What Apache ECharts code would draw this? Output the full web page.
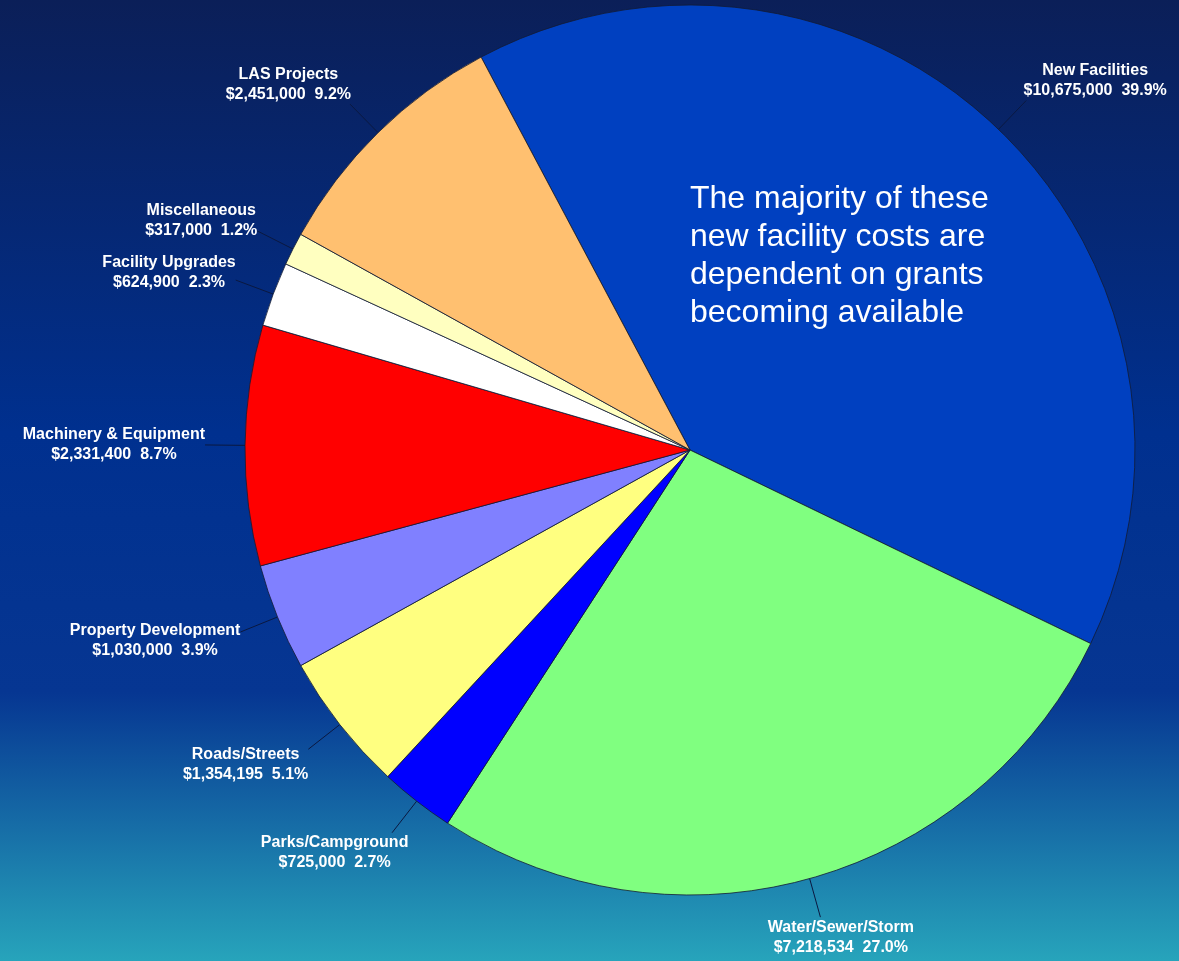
<!DOCTYPE html>
<html>
<head>
<meta charset="utf-8">
<script src="https://cdn.jsdelivr.net/npm/echarts@6/dist/echarts.min.js"></script>
<style>
  html, body { margin: 0; padding: 0; }
  #chart { width: 1179px; height: 961px; }
</style>
</head>
<body>
<div id="chart"></div>
<script>
// slices go clockwise from the top, starting with New Facilities
const categories = ['New Facilities', 'Water/Sewer/Storm', 'Parks/Campground', 'Roads/Streets',
  'Property Development', 'Machinery & Equipment', 'Facility Upgrades', 'Miscellaneous', 'LAS Projects']
const amounts = [10675000, 7218534, 725000, 1354195, 1030000, 2331400, 624900, 317000, 2451000]
const colors = ['#0040c0', '#80ff80', '#0000ff', '#ffff80', '#8080ff', '#ff0000', '#ffffff', '#ffffc0', '#ffc070']
const note = ['The majority of these', 'new facility costs are', 'dependent on grants', 'becoming available']

const chart = echarts.init(document.getElementById('chart'))
const money = v => '$' + v.toLocaleString('en-US')
const center = [690, 450]
const lineLen = 40

// put each label just past the end of a straight radial leader line,
// touching it with the corner/side that faces the pie
function placeLabel(params) {
  const pts = params.labelLinePoints
  if (!pts) return {}
  const p0 = pts[0]
  let ux = p0[0] - center[0], uy = p0[1] - center[1]
  const len = Math.sqrt(ux * ux + uy * uy)
  ux /= len; uy /= len
  const end = [p0[0] + ux * lineLen, p0[1] + uy * lineLen]
  const m = Math.max(Math.abs(ux), Math.abs(uy))
  const w = params.labelRect.width, h = params.labelRect.height
  return {
    x: end[0] + ux / m * w / 2,
    y: end[1] + uy / m * h / 2,
    align: 'center',
    verticalAlign: 'middle',
    labelLinePoints: [p0, end, end]
  }
}

const option = {
  backgroundColor: {
    type: 'linear', x: 0, y: 0, x2: 0, y2: 1,
    colorStops: [
      {offset: 0, color: '#0b1f58'},
      {offset: 0.45, color: '#00308f'},
      {offset: 0.72, color: '#063692'},
      {offset: 1, color: '#27a4bb'}
    ]
  },
  textStyle: {fontFamily: '"Liberation Sans", Arial, sans-serif'},
  graphic: [{
    type: 'text',
    left: 690,
    top: 180,
    style: {
      text: note.join('\n'),
      fill: '#ffffff',
      font: '32px "Liberation Sans", Arial, sans-serif',
      lineHeight: 38
    },
    z: 10
  }],
  series: [{
    type: 'pie',
    center: center,
    radius: 445,
    startAngle: 118,
    clockwise: true,
    avoidLabelOverlap: false,
    percentPrecision: 1,
    animation: false,
    itemStyle: {borderColor: '#111a33', borderWidth: 0.8},
    label: {
      color: '#ffffff',
      fontWeight: 'bold',
      fontSize: 16,
      lineHeight: 20,
      formatter: p => p.name + '\n' + money(p.value) + '  ' + p.percent.toFixed(1) + '%'
    },
    labelLine: {
      length: lineLen,
      length2: 0,
      lineStyle: {color: '#0a1840', width: 1}
    },
    labelLayout: placeLabel,
    data: categories.map((c, i) => ({name: c, value: amounts[i], itemStyle: {color: colors[i]}}))
  }]
}
chart.setOption(option)
</script>
</body>
</html>
